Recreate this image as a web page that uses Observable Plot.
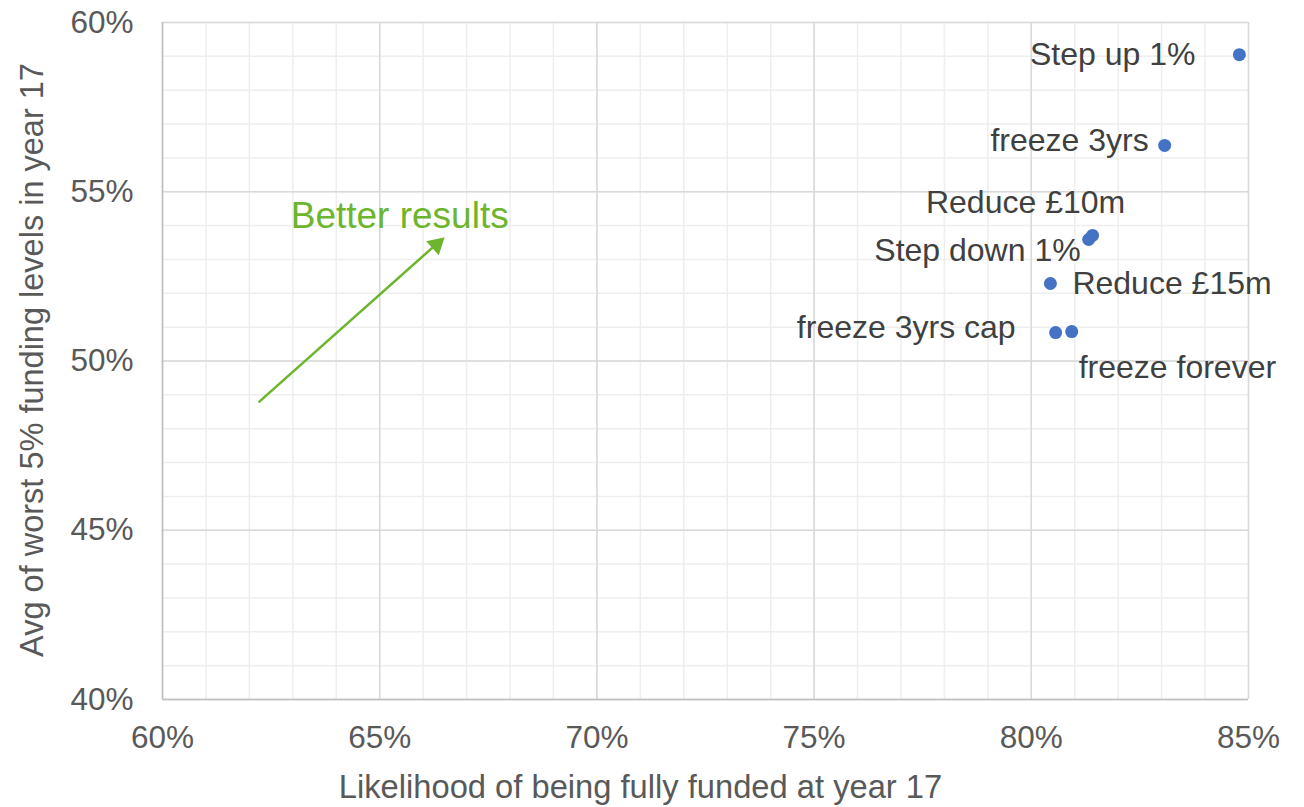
<!DOCTYPE html>
<html><head><meta charset="utf-8">
<script src="https://cdn.jsdelivr.net/npm/d3@7"></script>
<script src="https://cdn.jsdelivr.net/npm/@observablehq/plot@0.6"></script>
<style>body{margin:0;background:#fff}</style>
</head><body><div id="chart"></div>
<script>
// ---- data ----
const scenarios = ["Step up 1%", "freeze 3yrs", "Reduce £10m", "Step down 1%", "Reduce £15m", "freeze 3yrs cap", "freeze forever"];
const likelihoodFullyFunded = [0.8479, 0.8307, 0.8141, 0.8132, 0.8044, 0.8056, 0.8093];
const avgWorst5 = [0.5905, 0.5637, 0.5371, 0.5359, 0.5229, 0.5084, 0.5087];
const xTicks = [0.60, 0.65, 0.70, 0.75, 0.80, 0.85];
const yTicks = [0.40, 0.45, 0.50, 0.55, 0.60];
const xMinor = [0.60,0.61,0.62,0.63,0.64,0.65,0.66,0.67,0.68,0.69,0.70,0.71,0.72,0.73,0.74,0.75,0.76,0.77,0.78,0.79,0.80,0.81,0.82,0.83,0.84,0.85];
const yMinor = [0.40,0.41,0.42,0.43,0.44,0.45,0.46,0.47,0.48,0.49,0.50,0.51,0.52,0.53,0.54,0.55,0.56,0.57,0.58,0.59,0.60];
const arrowStart = {x: 0.6223, y: 0.4880};
const arrowEnd = {x: 0.6640, y: 0.5356};
const annotation = {text: "Better results", x: 0.6546, y: 0.5427};

const points = scenarios.map((s, i) => ({label: s, x: likelihoodFullyFunded[i], y: avgWorst5[i]}));

// label placement (style only)
const place = {
  "Step up 1%":      {anchor: "end",    dx: -44, dy: 0},
  "freeze 3yrs":     {anchor: "end",    dx: -16, dy: -5},
  "Reduce £10m":     {anchor: "middle", dx: -67, dy: -33},
  "Step down 1%":    {anchor: "end",    dx: -8,  dy: 11},
  "Reduce £15m":     {anchor: "start",  dx: 22,  dy: 0},
  "freeze 3yrs cap": {anchor: "end",    dx: -40, dy: -5},
  "freeze forever":  {anchor: "start",  dx: 7,   dy: 36}
};

const green = "#6cb52d";
const font = "'Liberation Sans', Arial, sans-serif";

const labelMarks = points.map(p => Plot.text([p], {
  x: "x", y: "y", text: "label",
  textAnchor: place[p.label].anchor, dx: place[p.label].dx, dy: place[p.label].dy,
  fill: "#404040", fontSize: 32
}));

const chart = Plot.plot({
  width: 1304, height: 807,
  marginLeft: 162, marginRight: 56, marginTop: 22, marginBottom: 108,
  style: {fontFamily: font, fontSize: "31px", background: "#fff"},
  x: {domain: [0.60, 0.85], label: null},
  y: {domain: [0.40, 0.60], label: null},
  marks: [
    Plot.ruleX(xMinor, {x: d => d, stroke: "#eeeeee", strokeWidth: 1.5}),
    Plot.ruleY(yMinor, {y: d => d, stroke: "#eeeeee", strokeWidth: 1.5}),
    Plot.ruleX(xTicks, {x: d => d, stroke: "#d9d9d9", strokeWidth: 1.5}),
    Plot.ruleY(yTicks, {y: d => d, stroke: "#d9d9d9", strokeWidth: 1.5}),
    Plot.ruleX([0.60], {stroke: "#bfbfbf", strokeWidth: 1.5}),
    Plot.ruleY([0.40], {stroke: "#bfbfbf", strokeWidth: 1.5}),
    Plot.axisX({ticks: xTicks, tickFormat: d3.format(".0%"), tickSize: 0, tickPadding: 26, fill: "#595959", fontSize: 31.5}),
    Plot.axisY({ticks: yTicks, tickFormat: d3.format(".0%"), tickSize: 0, tickPadding: 29, fill: "#595959", fontSize: 31.5}),
    Plot.text(["Likelihood of being fully funded at year 17"], {frameAnchor: "bottom", textAnchor: "middle", lineAnchor: "middle", dx: -65, dy: 88, fill: "#595959", fontSize: 32.7}),
    Plot.text(["Avg of worst 5% funding levels in year 17"], {frameAnchor: "left", textAnchor: "middle", lineAnchor: "middle", rotate: -90, dx: -130, dy: -1, fill: "#595959", fontSize: 32.5}),
    Plot.arrow([{x1: arrowStart.x, y1: arrowStart.y, x2: arrowEnd.x, y2: arrowEnd.y}], {x1: "x1", y1: "y1", x2: "x2", y2: "y2", stroke: green, strokeWidth: 2.5, headLength: 0, insetEnd: 8}),
    Plot.dot([arrowEnd], {x: "x", y: "y", symbol: "triangle", r: 7, fill: green, rotate: 48, dx: -4, dy: 4}),
    Plot.text([annotation], {x: "x", y: "y", text: "text", fill: green, fontSize: 37}),
    Plot.dot(points, {x: "x", y: "y", r: 6.5, fill: "#4472c4"}),
    ...labelMarks
  ]
});
document.getElementById("chart").append(chart);
</script>
</body></html>
